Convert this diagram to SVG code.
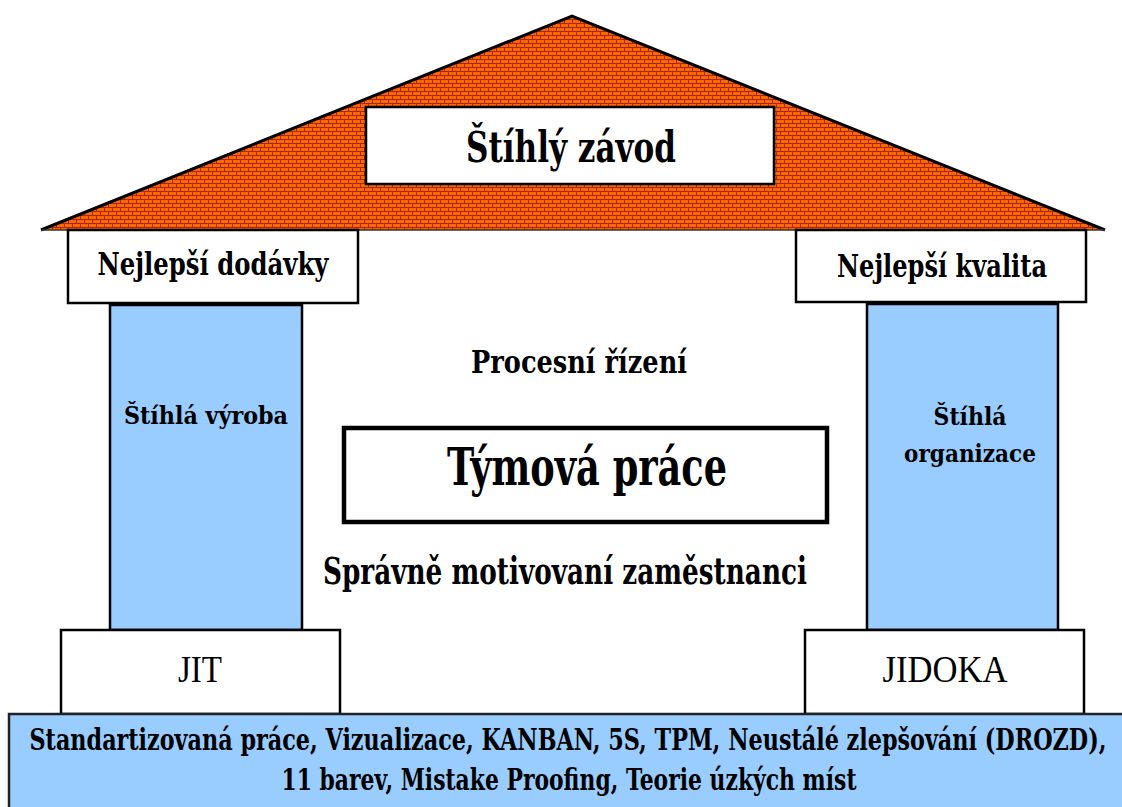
<svg xmlns="http://www.w3.org/2000/svg" width="1122" height="807" viewBox="0 0 1122 807">
<defs>
<pattern id="brick" x="0" y="0" width="8" height="8" patternUnits="userSpaceOnUse">
<rect width="8" height="8" fill="#FF6600"/>
<rect x="0" y="3" width="8" height="1" fill="#A32A00"/>
<rect x="0" y="7" width="8" height="1" fill="#A32A00"/>
<rect x="0" y="0" width="1" height="3" fill="#A32A00"/>
<rect x="4" y="4" width="1" height="3" fill="#A32A00"/>
</pattern>
<style>
.box{fill:#fff;stroke:#000;stroke-width:2.5}
.col{fill:#99CCFF;stroke:#000;stroke-width:2.5}
.bt{font-family:"DejaVu Serif","Liberation Serif",serif;font-weight:bold}
</style>
</defs>
<rect width="1122" height="807" fill="#fff"/>
<g id="roof">
<polygon points="41,230 572,16 1105,230" fill="url(#brick)"/>
<polyline points="41,230 572,16 1105,230" fill="none" stroke="#000" stroke-width="3" stroke-linejoin="miter"/>
<line x1="41" y1="230" x2="1105" y2="230" stroke="#333" stroke-width="1.5"/>
</g>
<g font-family="'Liberation Serif', 'Times New Roman', serif" text-anchor="middle" fill="#000">
<g id="title">
<rect class="box" x="366" y="107" width="408" height="77" stroke-width="3"/>
<text class="bt" x="571" y="162" font-size="42" textLength="210" lengthAdjust="spacingAndGlyphs">Štíhlý závod</text>
</g>
<g id="left-column">
<rect class="col" x="110" y="305" width="192" height="325"/>
<text class="bt" x="206" y="424" font-size="25" textLength="164" lengthAdjust="spacingAndGlyphs">Štíhlá výroba</text>
</g>
<g id="right-column">
<rect class="col" x="867" y="304" width="191" height="326"/>
<text class="bt" x="970" y="425" font-size="25" textLength="73" lengthAdjust="spacingAndGlyphs">Štíhlá</text>
<text class="bt" x="970" y="462" font-size="25" textLength="132" lengthAdjust="spacingAndGlyphs">organizace</text>
</g>
<g id="best-delivery">
<rect class="box" x="68" y="230" width="290" height="73"/>
<text class="bt" x="213" y="275" font-size="32" textLength="231" lengthAdjust="spacingAndGlyphs">Nejlepší dodávky</text>
</g>
<g id="best-quality">
<rect class="box" x="796" y="230" width="290" height="72"/>
<text class="bt" x="942" y="277" font-size="32" textLength="210" lengthAdjust="spacingAndGlyphs">Nejlepší kvalita</text>
</g>
<g id="process">
<text class="bt" x="579" y="373" font-size="32" textLength="216" lengthAdjust="spacingAndGlyphs">Procesní řízení</text>
</g>
<g id="teamwork">
<rect x="344" y="428" width="483" height="94" fill="#fff" stroke="#000" stroke-width="4.5"/>
<text class="bt" x="587" y="485" font-size="52" textLength="280" lengthAdjust="spacingAndGlyphs">Týmová práce</text>
</g>
<g id="motivation">
<text class="bt" x="565" y="584" font-size="38" textLength="484" lengthAdjust="spacingAndGlyphs">Správně motivovaní zaměstnanci</text>
</g>
<g id="jit">
<rect class="box" x="61" y="630" width="279" height="84"/>
<text x="200" y="682" font-size="38" textLength="44" lengthAdjust="spacingAndGlyphs">JIT</text>
</g>
<g id="jidoka">
<rect class="box" x="805" y="630" width="279" height="84"/>
<text x="945" y="682" font-size="38" textLength="125" lengthAdjust="spacingAndGlyphs">JIDOKA</text>
</g>
<g id="foundation">
<rect x="9" y="714" width="1120" height="100" fill="#99CCFF" stroke="#222" stroke-width="2.5"/>
<text class="bt" x="568" y="750" font-size="29" textLength="1077" lengthAdjust="spacingAndGlyphs">Standartizovaná práce, Vizualizace, KANBAN, 5S, TPM, Neustálé zlepšování (DROZD),</text>
<text class="bt" x="569" y="790" font-size="29" textLength="575" lengthAdjust="spacingAndGlyphs">11 barev, Mistake Proofing, Teorie úzkých míst</text>
</g>
</g>
<g id="connectors"></g>
</svg>
